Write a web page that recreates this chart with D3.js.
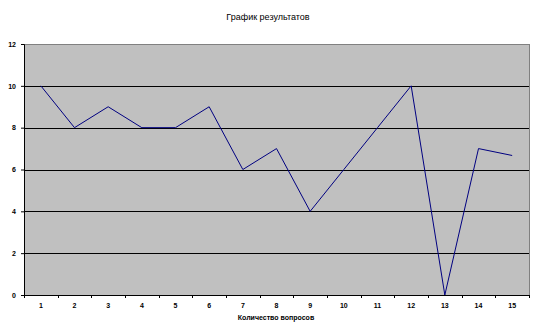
<!DOCTYPE html>
<html>
<head>
<meta charset="utf-8">
<script src="https://cdn.jsdelivr.net/npm/d3@7"></script>
<style>
  html, body { margin: 0; padding: 0; background: #fff; }
  svg { display: block; font-family: Arial, "Liberation Sans", sans-serif; }
</style>
</head>
<body>
<div id="chart"></div>
<script>
// данные графика
const questions = ['1', '2', '3', '4', '5', '6', '7', '8', '9', '10', '11', '12', '13', '14', '15'];
const scores = [10, 8, 9, 8, 8, 9, 6, 7, 4, 6, 8, 10, 0, 7, 6.67];
const yTicks = [0, 2, 4, 6, 8, 10, 12];

const width = 539, height = 336;
const margin = { top: 44, right: 10, bottom: 41, left: 24 };
const innerW = width - margin.left - margin.right;
const innerH = height - margin.top - margin.bottom;

const svg = d3.select('#chart').append('svg')
  .attr('width', width)
  .attr('height', height);

// заголовок
svg.append('text')
  .attr('x', 268)
  .attr('y', 20)
  .attr('text-anchor', 'middle')
  .attr('font-size', '9px')
  .attr('fill', '#000')
  .text('График результатов');

const g = svg.append('g').attr('transform', `translate(${margin.left},${margin.top})`);

const x = d3.scaleBand().domain(questions).range([0, innerW]);
const y = d3.scaleLinear().domain([0, 12]).range([innerH, 0]);

// фон области построения
g.append('rect')
  .attr('width', innerW)
  .attr('height', innerH)
  .attr('fill', '#C0C0C0')
  .attr('stroke', '#808080')
  .attr('stroke-width', 1)
  .attr('shape-rendering', 'crispEdges');

// линии сетки
g.selectAll('.grid')
  .data(yTicks.filter(d => d > 0 && d < 12))
  .enter().append('line')
  .attr('x1', 0).attr('x2', innerW)
  .attr('y1', d => Math.round(y(d)) + 0.5)
  .attr('y2', d => Math.round(y(d)) + 0.5)
  .attr('stroke', '#000')
  .attr('stroke-width', 1);

// ось Y
const yAxis = g.append('g')
  .call(d3.axisLeft(y).tickValues(yTicks).tickSize(3).tickPadding(5))
  .attr('font-size', '7px')
  .attr('font-weight', 'bold');
yAxis.select('.domain').attr('stroke', '#000');

// ось X
const xAxis = g.append('g')
  .attr('transform', `translate(0,${innerH})`)
  .call(d3.axisBottom(x).tickSize(0).tickPadding(8))
  .attr('font-size', '7px')
  .attr('font-weight', 'bold');
xAxis.select('.domain').attr('stroke', '#000');

// деления между категориями
g.selectAll('.xtick')
  .data(questions.map((q, i) => i).concat([questions.length]))
  .enter().append('line')
  .attr('x1', i => Math.round(i * x.step()) + 0.5)
  .attr('x2', i => Math.round(i * x.step()) + 0.5)
  .attr('y1', innerH)
  .attr('y2', innerH + 3)
  .attr('stroke', '#000');

svg.append('text')
  .attr('x', 276)
  .attr('y', 320)
  .attr('text-anchor', 'middle')
  .attr('font-size', '7px')
  .attr('font-weight', 'bold')
  .attr('fill', '#000')
  .text('Количество вопросов');

// линия результатов
const line = d3.line()
  .x((d, i) => x(questions[i]) + x.bandwidth() / 2)
  .y(d => y(d));

g.append('path')
  .datum(scores)
  .attr('d', line)
  .attr('fill', 'none')
  .attr('stroke', '#000080')
  .attr('stroke-width', 1);
</script>
</body>
</html>
